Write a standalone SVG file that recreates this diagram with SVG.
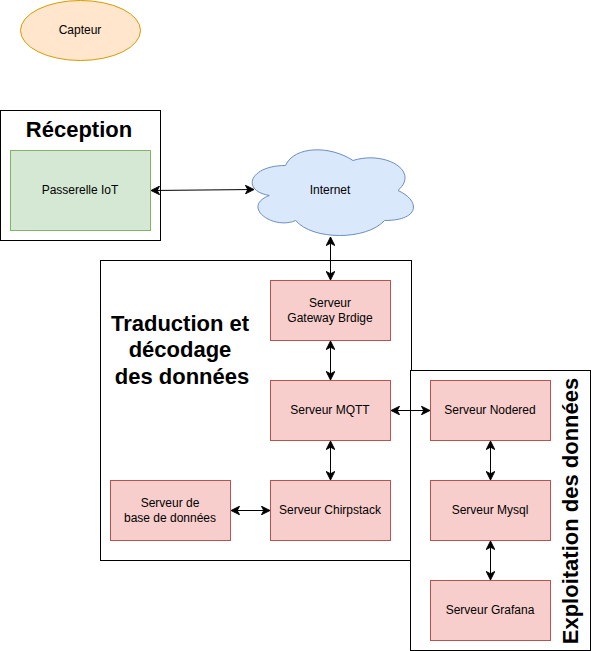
<svg xmlns="http://www.w3.org/2000/svg" width="591" height="651" viewBox="0 0 591 651">
<defs>
<marker id="a" viewBox="0 0 10 10" refX="9.5" refY="5" markerWidth="9.5" markerHeight="9.5" markerUnits="userSpaceOnUse" orient="auto-start-reverse"><path d="M0.5 0.5L9.5 5L0.5 9.5L3 5Z" fill="#000" stroke="#000" stroke-width="1"/></marker>
</defs>
<style>
text{font-family:"Liberation Sans",Arial,sans-serif;fill:#000;text-anchor:middle}
.l{font-size:12px}
.t{font-size:22px;font-weight:bold}
.box{fill:#fff;stroke:#000;stroke-width:1}
.red{fill:#f8cecc;stroke:#b85450;stroke-width:1}
.c{fill:none;stroke:#000;stroke-width:1;marker-start:url(#a);marker-end:url(#a)}
</style>
<rect width="591" height="651" fill="#fff"/>
<g id="capteur"><ellipse cx="80.500" cy="30.500" rx="60" ry="30" fill="#ffe6cc" stroke="#d79b00"/><text class="l" x="80" y="34">Capteur</text></g>
<g id="reception"><rect class="box" x="0.500" y="110.500" width="160" height="130"/><text class="t" x="79" y="137">Réception</text></g>
<g id="passerelle"><rect x="10.500" y="150.500" width="140" height="80" fill="#d5e8d4" stroke="#82b366"/><text class="l" x="80" y="194">Passerelle IoT</text></g>
<g id="internet"><path d="M285.500 165.500C249.500 165.500 240.500 190.500 269.300 195.500C240.500 206.500 272.900 230.500 295.700 220.500C312.500 240.500 366.500 240.500 384.500 220.500C420.500 220.500 420.500 200.500 398 190.500C420.500 170.500 384.500 150.500 353 160.500C330.500 145.500 294.500 145.500 285.500 165.500Z" fill="#dae8fc" stroke="#6c8ebf"/><text class="l" x="330" y="194">Internet</text></g>
<g id="traduction"><rect class="box" x="100.500" y="260.500" width="311" height="300"/><text class="t"><tspan x="180" y="331">Traduction et</tspan><tspan x="180" y="357">décodage</tspan><tspan x="182" y="384">des données</tspan></text></g>
<g id="exploitation"><rect class="box" x="410.500" y="370.500" width="180" height="280"/><text class="t" transform="translate(578 511) rotate(-90)">Exploitation des données</text></g>
<g id="gateway"><rect class="red" x="270.500" y="280.500" width="120" height="60"/><text class="l"><tspan x="330" y="307">Serveur</tspan><tspan x="330" y="322">Gateway Brdige</tspan></text></g>
<g id="mqtt"><rect class="red" x="270.500" y="380.500" width="120" height="60"/><text class="l" x="330" y="414">Serveur MQTT</text></g>
<g id="chirpstack"><rect class="red" x="270.500" y="480.500" width="120" height="60"/><text class="l" x="330" y="514">Serveur Chirpstack</text></g>
<g id="bdd"><rect class="red" x="110.500" y="480.500" width="120" height="60"/><text class="l"><tspan x="170" y="507">Serveur de</tspan><tspan x="170" y="522">base de données</tspan></text></g>
<g id="nodered"><rect class="red" x="430.500" y="380.500" width="120" height="60"/><text class="l" x="490" y="414">Serveur Nodered</text></g>
<g id="mysql"><rect class="red" x="430.500" y="480.500" width="120" height="60"/><text class="l" x="490" y="514">Serveur Mysql</text></g>
<g id="grafana"><rect class="red" x="430.500" y="580.500" width="120" height="60"/><text class="l" x="490" y="614">Serveur Grafana</text></g>
<g id="connectors">
<path class="c" d="M151 190.500L254 189.500"/>
<path class="c" d="M330.500 237V280"/>
<path class="c" d="M330.500 341V380"/>
<path class="c" d="M330.500 441V480"/>
<path class="c" d="M231 510.500H270"/>
<path class="c" d="M391 410.500H430"/>
<path class="c" d="M490.500 441V480"/>
<path class="c" d="M490.500 541V580"/>
</g>
</svg>
